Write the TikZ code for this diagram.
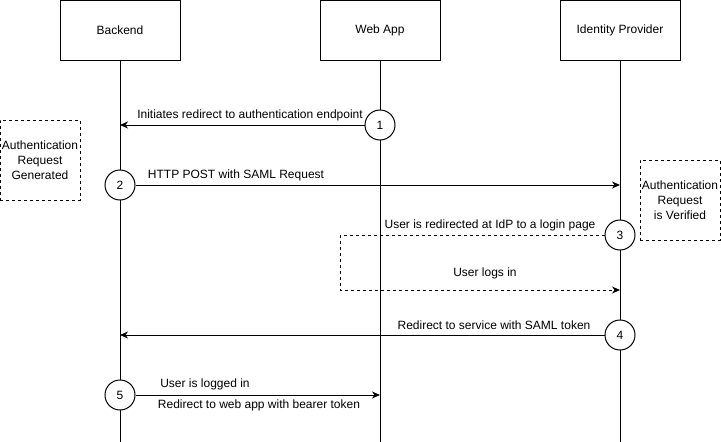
\documentclass[tikz,border=0pt]{standalone}
\usepackage{fontspec}
\setmainfont{Liberation Sans}
\usetikzlibrary{arrows.meta}

\begin{document}
\begin{tikzpicture}[x=1pt,y=-1pt,line width=1pt,font=\fontsize{12}{14}\selectfont,
	actor/.style={draw, minimum width=120, minimum height=60, inner sep=0},
	stepno/.style={circle, draw, fill=white, minimum size=30, inner sep=0},
	notebox/.style={draw, dash pattern=on 3pt off 3pt, minimum width=80, minimum height=80, inner sep=0, align=center, font=\fontsize{12}{15}\selectfont},
	msg/.style={inner sep=1pt},
	dashline/.style={dash pattern=on 3pt off 3pt},
	tip/.style={-{Stealth[length=8pt,width=7pt,inset=2.5pt]}}]
	
	\useasboundingbox (0,0) rectangle (721,442);
	
	\node[actor] (backend) at (120,30) {Backend};
	\node[actor] (webapp) at (380,30) {Web App};
	\node[actor] (idp) at (620,30) {Identity Provider};
	
	\coordinate (backendend) at (120,442);
	\coordinate (webappend) at (380,442);
	\coordinate (idpend) at (620,442);
	
	\draw (backend.south) -- (backendend);
	\draw (webapp.south) -- (webappend);
	\draw (idp.south) -- (idpend);
	
	\coordinate (b1) at (120,125);
	\coordinate (i2) at (620,185);
	\coordinate (w3a) at (340,235);
	\coordinate (w3b) at (340,290);
	\coordinate (i3) at (620,290);
	\coordinate (b4) at (120,335);
	\coordinate (w5) at (380,395);
	
	\node[stepno] (one) at (380,125) {1};
	\node[stepno] (two) at (120,185) {2};
	\node[stepno] (three) at (620,235) {3};
	\node[stepno] (four) at (620,335) {4};
	\node[stepno] (five) at (120,395) {5};
	
	\node[notebox] (generated) at (40,160) {Authentication\\Request\\Generated};
	\node[notebox] (verified) at (680,200) {Authentication\\Request\\is Verified};
	
	\draw[tip] (one) -- (b1);
	\node[msg] (m1) at (250,115) {Initiates redirect to authentication endpoint};
	
	\draw[tip] (two) -- (i2);
	\node[msg] (m2) at (236,175) {HTTP POST with SAML Request};
	
	\draw[dashline,tip] (three) -- (w3a) -- (w3b) -- (i3);
	\node[msg] (m3) at (490,225) {User is redirected at IdP to a login page};
	\node[msg] (m3b) at (485,273) {User logs in};
	
	\draw[tip] (four) -- (b4);
	\node[msg] (m4) at (494,325) {Redirect to service with SAML token};
	
	\draw[tip] (five) -- (w5);
	\node[msg] (m5) at (205,384) {User is logged in};
	\node[msg] (m5b) at (259,405) {Redirect to web app with bearer token};
	
\end{tikzpicture}
\end{document}
